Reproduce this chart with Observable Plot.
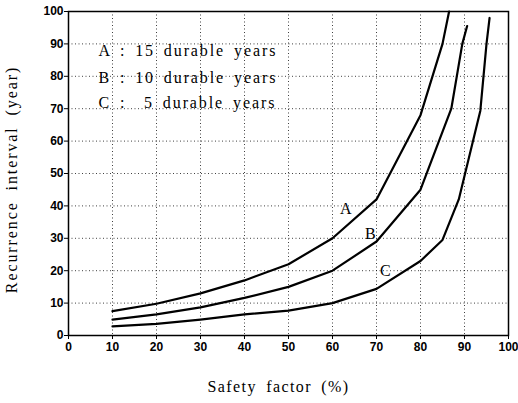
<!DOCTYPE html>
<html><head><meta charset="utf-8">
<script src="https://cdn.jsdelivr.net/npm/d3@7"></script>
<script src="https://cdn.jsdelivr.net/npm/@observablehq/plot@0.6"></script>
<style>
body{margin:0;background:#fff;}
svg{font-family:"Liberation Sans",Arial,sans-serif;}
.legendtxt text{letter-spacing:1.9px;word-spacing:3px;}
.xtitle text{letter-spacing:1.4px;word-spacing:4px;}
.ytitle text{letter-spacing:1.9px;word-spacing:5px;}
</style></head>
<body><div id="chart"></div>
<script>
const xA = [10, 20, 30, 40, 50, 60, 70, 80, 85, 86.5];
const yA = [7.5, 9.8, 13, 17, 22, 30, 42, 68, 90, 100];
const xB = [10, 20, 30, 40, 50, 60, 70, 80, 87, 89.5, 90.6];
const yB = [4.9, 6.5, 8.7, 11.6, 15, 20, 29, 45, 70, 90, 95.5];
const xC = [10, 20, 30, 40, 50, 60, 70, 80, 85, 88.7, 93.6, 95, 95.7];
const yC = [2.8, 3.6, 4.9, 6.5, 7.7, 10, 14.4, 23, 29.5, 42, 69.4, 90, 98];
const curveNames = ["A", "B", "C"];
const curveLabelX = [63, 68.6, 72];
const curveLabelY = [39.1, 31.4, 20];
const legendLines = ["A : 15 durable years", "B : 10 durable years", "C :  5 durable years"];
const legendY = [88, 79.6, 71.9];
const ticks = [0, 10, 20, 30, 40, 50, 60, 70, 80, 90, 100];

const series = [[xA, yA], [xB, yB], [xC, yC]];
const lines = series.flatMap(([xs, ys], i) => xs.map((x, j) => ({name: curveNames[i], x, y: ys[j]})));
const labels = curveNames.map((n, i) => ({n, x: curveLabelX[i], y: curveLabelY[i]}));
const legend = legendLines.map((t, i) => ({t, y: legendY[i]}));

const chart = Plot.plot({
  width: 518, height: 403,
  marginLeft: 68, marginRight: 10, marginTop: 11, marginBottom: 68,
  x: {domain: [0, 100], ticks},
  y: {domain: [0, 100], ticks},
  style: {background: "#fff", color: "#000"},
  marks: [
    Plot.gridX(ticks.slice(1, -1), {stroke: "#000", strokeOpacity: 0.75, strokeDasharray: "1,2.5", strokeWidth: 1}),
    Plot.gridY(ticks.slice(1, -1), {stroke: "#000", strokeOpacity: 0.75, strokeDasharray: "1,2.5", strokeWidth: 1}),
    Plot.frame({stroke: "#000", strokeWidth: 1.5}),
    Plot.axisX({ticks, tickSize: 4, tickPadding: 3, fontSize: 12, fontWeight: "bold", label: null, tickFormat: d => d}),
    Plot.axisY({ticks, tickSize: 4, tickPadding: 1, fontSize: 12, fontWeight: "bold", label: null, tickFormat: d => d}),
    Plot.line(lines, {x: "x", y: "y", z: "name", stroke: "#000", strokeWidth: 2.2}),
    Plot.text(labels, {x: "x", y: "y", text: "n", fontFamily: "Liberation Serif", fontSize: 16, fill: "#000"}),
    Plot.text(legend, {x: 6.8, y: "y", text: "t", textAnchor: "start", fontFamily: "Liberation Serif", fontSize: 16, fill: "#000", className: "legendtxt"}),
    Plot.text(["Safety factor (%)"], {frameAnchor: "bottom", textAnchor: "middle", dx: -10, dy: 56, fontFamily: "Liberation Serif", fontSize: 16, fill: "#000", className: "xtitle"}),
    Plot.text(["Recurrence interval (year)"], {frameAnchor: "left", textAnchor: "middle", dx: -57, dy: 6, rotate: -90, fontFamily: "Liberation Serif", fontSize: 16, fill: "#000", className: "ytitle"})
  ]
});
document.getElementById("chart").append(chart);
</script></body></html>
